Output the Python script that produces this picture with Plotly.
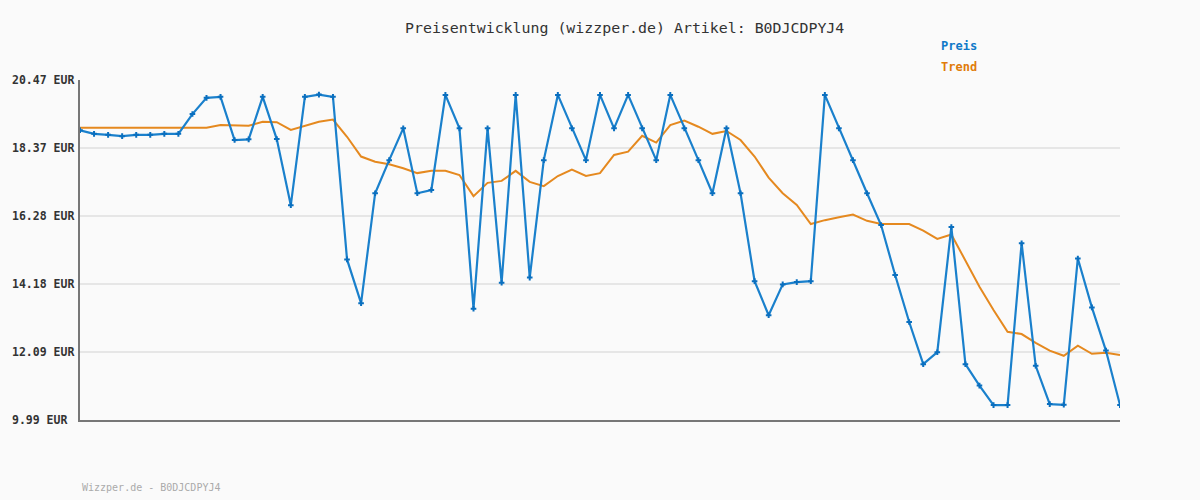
import plotly.graph_objects as go

idx = list(range(75))
preis = [18.92, 18.81, 18.78, 18.74, 18.78, 18.78, 18.81, 18.81, 19.42, 19.92,
         19.95, 18.62, 18.64, 19.95, 18.65, 16.61, 19.95, 20.02, 19.95, 14.94,
         13.59, 16.98, 18.00, 18.98, 16.98, 17.08, 20.01, 18.98, 13.42, 18.98,
         14.22, 20.01, 14.38, 18.00, 20.01, 18.98, 18.00, 20.01, 18.98, 20.01,
         18.98, 18.00, 20.01, 18.98, 18.00, 16.98, 18.98, 16.98, 14.27, 13.22,
         14.17, 14.24, 14.27, 20.01, 18.98, 18.00, 16.98, 16.00, 14.46, 13.01,
         11.71, 12.08, 15.94, 11.71, 11.05, 10.45, 10.45, 15.44, 11.66, 10.48,
         10.46, 14.97, 13.46, 12.13, 10.45]
trend = [19.00, 19.00, 19.00, 19.00, 19.00, 19.00, 19.00, 19.00, 19.00, 19.00,
         19.08, 19.06, 19.06, 19.18, 19.17, 18.93, 19.06, 19.18, 19.25, 18.72,
         18.11, 17.95, 17.87, 17.75, 17.60, 17.67, 17.67, 17.54, 16.89, 17.30,
         17.36, 17.67, 17.33, 17.20, 17.51, 17.71, 17.51, 17.60, 18.16, 18.26,
         18.75, 18.54, 19.08, 19.22, 19.03, 18.81, 18.90, 18.62, 18.11, 17.46,
         16.98, 16.62, 16.03, 16.15, 16.24, 16.32, 16.13, 16.03, 16.03, 16.03,
         15.83, 15.57, 15.71, 14.91, 14.10, 13.38, 12.71, 12.64, 12.37, 12.13,
         11.97, 12.28, 12.03, 12.06, 11.99]
tick_vals = [9.99, 12.09, 14.18, 16.28, 18.37, 20.47]
tick_text = ["9.99 EUR", "12.09 EUR", "14.18 EUR", "16.28 EUR", "18.37 EUR", "20.47 EUR"]

BLUE = "#1a80cc"
ORANGE = "#e5891f"
MONO = "DejaVu Sans Mono"

fig = go.Figure()
fig.add_trace(go.Scatter(x=idx, y=trend, mode="lines", name="Trend",
                         line=dict(color=ORANGE, width=2), hoverinfo="skip"))
fig.add_trace(go.Scatter(x=idx, y=preis, mode="lines+markers", name="Preis",
                         line=dict(color=BLUE, width=2.2),
                         marker=dict(symbol="cross-thin", size=4, color=BLUE,
                                     line=dict(color="#0a6fbf", width=2))))

annotations = []
for v, t in zip(tick_vals, tick_text):
    annotations.append(dict(x=-70 / 1040, y=v, xref="paper", yref="y", text="<b>" + t + "</b>",
                            showarrow=False, xanchor="left", yanchor="middle",
                            font=dict(family=MONO, size=11.5, color="#333333")))
annotations += [
    dict(x=(624 - 80) / 1040, y=(420 - 28) / 340, xref="paper", yref="paper",
         text="Preisentwicklung (wizzper.de) Artikel: B0DJCDPYJ4", showarrow=False,
         xanchor="center", yanchor="middle", font=dict(family=MONO, size=14.9, color="#333333")),
    dict(x=(939 - 80) / 1040, y=(420 - 46) / 340, xref="paper", yref="paper",
         text="<b>Preis</b>", showarrow=False, xanchor="left", yanchor="middle",
         font=dict(family=MONO, size=12, color="#0f78c8")),
    dict(x=(939 - 80) / 1040, y=(420 - 67) / 340, xref="paper", yref="paper",
         text="<b>Trend</b>", showarrow=False, xanchor="left", yanchor="middle",
         font=dict(family=MONO, size=12, color="#e07c0a")),
    dict(x=0, y=(420 - 487) / 340, xref="paper", yref="paper",
         text="Wizzper.de - B0DJCDPYJ4", showarrow=False, xanchor="left", yanchor="middle",
         font=dict(family=MONO, size=10, color="#aaaaaa")),
]

fig.update_layout(
    width=1200, height=500,
    margin=dict(l=80, r=80, t=80, b=80),
    paper_bgcolor="#fafafa", plot_bgcolor="#fafafa",
    showlegend=False,
    annotations=annotations,
    xaxis=dict(range=[0, 74], showgrid=False, zeroline=False, showticklabels=False,
               showline=True, linecolor="#777777", linewidth=2),
    yaxis=dict(range=[9.99, 20.47], tickvals=tick_vals, showticklabels=False,
               showgrid=True, gridcolor="#e6e6e6", gridwidth=2, zeroline=False,
               showline=True, linecolor="#777777", linewidth=2),
)
fig.write_html("out.html")
